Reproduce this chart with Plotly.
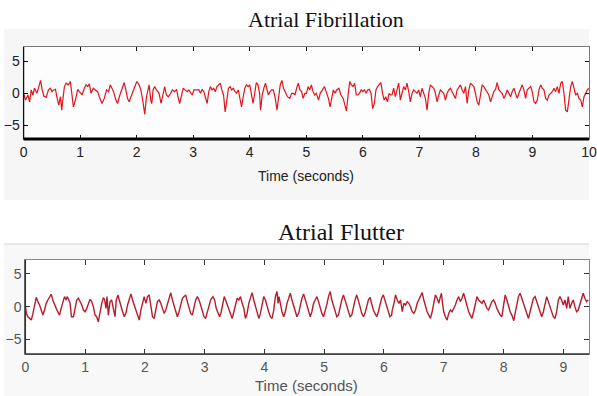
import plotly.graph_objects as go

# ---------------- Atrial Fibrillation ----------------
afib_t = [0.000,0.035,0.076,0.106,0.135,0.164,0.194,0.235,0.270,0.299,0.329,0.358,0.399,0.440,0.470,0.505,0.534,0.564,0.587,0.622,
          0.652,0.675,0.693,0.722,0.752,0.793,0.828,0.857,0.881,0.916,0.957,0.986,1.033,1.075,1.104,1.133,1.163,1.192,1.233,1.268,
          1.309,1.339,1.386,1.427,1.468,1.503,1.533,1.562,1.591,1.632,1.662,1.703,1.750,1.779,1.809,1.838,1.867,1.914,1.955,2.002,
          2.043,2.073,2.102,2.143,2.173,2.202,2.220,2.249,2.267,2.290,2.319,2.349,2.396,2.431,2.466,2.496,2.525,2.560,2.601,2.631,
          2.672,2.707,2.730,2.760,2.795,2.824,2.854,2.895,2.924,2.954,2.983,3.012,
          3.101,3.130,3.159,3.188,3.217,3.246,3.275,3.304,3.333,3.362,3.391,3.420,3.449,3.478,3.507,3.536,3.565,3.594,3.623,3.652,
          3.681,3.710,3.739,3.768,3.797,3.826,3.855,3.884,3.913,3.942,3.971,4.000,4.029,4.058,4.087,4.116,4.145,4.174,4.191,4.220,
          4.249,4.278,4.307,4.330,4.359,4.388,4.417,4.452,4.481,4.510,4.539,4.568,4.597,4.626,4.667,4.707,4.742,4.771,4.800,4.829,
          4.858,4.887,4.916,4.945,4.974,5.003,5.032,5.061,5.090,5.119,5.148,5.177,5.217,5.246,5.287,5.322,5.351,5.391,5.420,5.449,
          5.478,5.507,5.536,5.577,5.612,5.652,5.681,5.710,5.739,5.768,5.797,5.826,5.855,5.884,5.913,5.942,5.971,6.000,6.029,6.058,
          6.087,6.116,6.145,6.174,6.203,6.232,6.261,6.290,6.319,6.348,6.377,6.406,6.435,6.464,6.493,
          6.516,6.545,6.575,6.604,6.634,6.663,6.693,6.722,6.752,6.781,6.811,6.841,6.870,6.900,6.929,6.959,6.988,7.018,7.047,7.077,
          7.106,7.136,7.165,7.195,7.224,7.254,7.284,7.313,7.343,7.372,7.402,7.431,7.461,7.490,7.520,7.549,7.579,7.608,7.638,7.667,
          7.697,7.727,7.756,7.786,7.815,7.845,7.874,7.904,7.933,7.963,7.992,8.022,8.051,8.081,8.110,8.140,8.170,8.199,8.229,8.258,
          8.288,8.317,8.347,8.376,8.406,8.435,8.465,8.494,8.524,8.553,8.583,8.613,8.642,8.672,8.701,8.731,8.760,8.790,8.819,8.849,
          8.878,8.908,8.937,8.967,8.996,9.026,9.056,9.085,9.115,9.144,9.174,9.203,9.233,9.262,9.292,9.321,9.351,9.380,9.410,9.439,
          9.469,9.499,9.528,9.558,9.587,9.617,9.646,9.676,9.705,9.735,9.764,9.794,9.823,9.853,9.882,9.912,9.941,9.971,10.000]
afib_v = [0.00,-1.05,-0.26,-1.32,0.53,-0.26,0.79,0.00,1.05,2.00,0.53,-0.42,-0.63,0.53,0.79,0.26,0.53,0.63,-0.53,-1.84,
          -0.53,-2.63,-1.05,1.05,1.58,1.32,1.84,0.00,-2.10,-1.05,0.63,0.26,-0.26,0.79,1.32,1.05,1.47,0.00,0.79,0.53,
          0.26,-0.53,-1.58,-0.79,0.53,0.26,1.32,0.79,0.26,-1.05,-1.58,-0.26,1.05,1.68,0.53,-0.79,-1.32,-0.26,0.53,1.84,
          1.32,0.53,-0.79,-3.26,-0.53,1.05,1.32,-1.05,-1.58,0.53,1.05,0.53,0.00,-1.58,0.00,1.05,-0.26,-0.53,0.00,0.53,
          0.26,0.63,-0.53,-1.58,-0.26,0.79,0.53,0.26,0.53,0.00,-0.26,0.53,
          0.53,0.00,0.63,0.26,-0.53,-1.58,0.26,1.05,0.53,0.79,0.26,1.05,1.32,1.58,0.53,-0.26,-2.89,-0.53,0.79,1.05,
          0.53,0.79,0.26,0.00,0.53,-0.79,-2.10,-0.53,0.79,1.32,1.05,1.32,0.00,-1.58,0.00,1.68,1.32,0.00,-2.63,-0.26,
          0.79,1.58,0.53,-0.26,0.26,0.53,0.53,-0.79,-2.63,-0.53,1.32,2.00,0.79,0.26,-0.53,-0.79,0.00,0.00,-0.26,0.79,
          1.58,0.53,0.26,-0.79,0.00,0.00,1.05,0.53,1.32,0.26,-0.26,0.00,-1.05,0.00,0.53,1.05,0.26,-0.79,-2.10,-0.53,
          0.53,0.00,0.53,0.79,-0.26,-0.79,-1.58,-2.74,-0.26,1.84,1.32,1.05,1.58,-0.26,-0.26,0.00,0.53,0.26,0.53,0.00,
          0.53,0.63,0.00,-2.37,-1.58,0.53,1.05,1.32,1.68,0.00,-1.05,-0.53,-1.32,0.00,-0.26,
          -0.26,0.79,-0.53,0.53,1.58,-1.05,0.00,1.05,0.53,1.58,0.26,-1.32,0.00,0.53,0.26,0.00,0.53,-0.53,0.79,0.00,
          -0.79,-2.63,0.00,1.32,1.05,0.79,0.00,-1.32,-0.26,0.53,0.26,0.00,-1.05,0.00,0.53,0.79,0.26,-0.26,-0.79,0.53,
          1.05,1.32,0.53,0.00,1.05,-1.58,0.53,1.58,1.32,1.05,0.00,-1.32,-1.84,-0.26,1.32,1.05,0.53,0.26,-0.26,-1.32,
          -0.53,0.26,0.63,1.68,0.53,0.26,0.00,-0.79,-0.26,0.53,0.00,-0.53,0.26,0.79,0.00,-0.79,0.00,0.79,1.32,0.53,
          -0.79,0.53,0.79,1.05,0.26,-1.32,-1.58,-1.05,0.53,1.32,0.79,0.53,-0.79,-1.05,-0.26,0.00,0.26,0.79,0.26,1.05,
          0.00,1.58,1.84,0.00,-2.63,-2.89,-0.79,1.05,1.84,0.53,-0.26,0.00,-0.79,-1.05,-2.10,-0.53,0.00,0.53,0.79]

# ---------------- Atrial Flutter ----------------
aflut_t = [0.000,0.017,0.044,0.072,0.100,0.128,0.156,0.183,0.211,0.239,0.267,0.294,0.322,0.350,0.378,0.406,0.433,0.461,0.489,0.517,
           0.544,0.572,0.600,0.628,0.656,0.683,0.700,0.722,0.750,0.772,0.806,0.833,0.861,0.889,0.917,0.944,0.972,1.000,1.028,1.056,
           1.083,1.111,1.139,1.167,1.194,1.222,1.250,1.278,1.306,1.328,1.350,1.367,1.389,1.417,1.444,1.472,1.500,1.522,1.550,1.572,
           1.600,1.628,1.656,1.683,1.711,1.739,1.767,1.794,1.822,1.850,1.878,1.906,1.933,1.961,1.989,2.017,2.044,2.072,2.100,2.128,
           2.156,2.183,2.211,2.239,2.267,2.294,2.322,2.350,2.378,2.406,2.433,2.461,2.489,2.517,2.544,2.572,2.600,2.628,2.656,2.683,
           2.711,2.739,2.767,2.794,2.822,2.850,2.878,
           2.906,2.933,2.961,2.989,3.017,3.044,3.072,3.100,3.139,3.167,3.194,3.222,3.250,3.278,3.306,3.328,3.350,3.378,3.406,3.433,
           3.461,3.489,3.517,3.544,3.572,3.600,3.628,3.656,3.683,3.711,3.739,3.767,3.794,3.822,3.850,3.878,3.906,3.933,3.961,3.989,
           4.017,4.044,4.072,4.100,4.128,4.156,4.183,4.211,4.228,4.244,4.267,4.294,4.322,4.350,4.378,4.406,4.433,4.461,4.489,4.517,
           4.544,4.572,4.600,4.628,4.656,4.683,4.711,4.739,4.767,4.794,4.822,4.850,4.878,4.906,4.933,4.961,4.989,5.017,5.044,5.072,
           5.100,5.128,5.156,5.183,5.211,5.239,5.267,5.294,5.322,5.350,5.378,5.406,5.433,5.461,5.489,5.517,5.544,5.572,5.600,5.628,
           5.656,5.683,5.711,5.739,5.767,5.794,5.822,5.850,5.878,5.906,5.933,5.961,5.989,6.017,6.044,6.072,6.100,6.128,
           6.139,6.167,6.194,6.222,6.250,6.278,6.306,6.333,6.361,6.389,6.417,6.444,6.472,6.500,6.528,6.556,6.583,6.611,6.639,6.667,
           6.694,6.722,6.750,6.778,6.806,6.833,6.861,6.889,6.917,6.944,6.961,6.983,7.000,7.028,7.056,7.083,7.111,7.139,7.167,7.194,
           7.222,7.250,7.278,7.306,7.333,7.361,7.389,7.417,7.444,7.472,7.500,7.528,7.556,7.583,7.611,7.639,7.667,7.694,7.722,7.750,
           7.778,7.806,7.833,7.861,7.889,7.917,7.944,7.972,8.000,8.028,8.056,8.083,8.111,8.139,8.172,8.194,8.222,8.250,8.278,8.306,
           8.333,8.361,8.389,8.417,8.444,8.472,8.500,8.528,8.556,8.583,8.611,8.639,8.667,8.694,8.722,8.750,8.778,8.806,8.833,8.861,
           8.889,8.917,8.944,8.972,9.000,9.028,9.056,9.083,9.111,9.139,9.167,9.194,9.222,9.250,9.278,9.306,9.333,9.361,9.389,9.417]
aflut_v = [0.26,-1.02,-1.53,-1.79,-2.04,-1.02,0.51,1.43,0.77,0.26,-0.51,-1.28,-0.51,0.51,1.02,1.53,1.89,1.02,0.26,-0.26,
           -0.77,-1.28,-0.26,0.77,1.53,1.02,1.53,1.12,0.51,-1.53,-1.53,-0.26,1.02,1.28,0.77,0.26,-0.51,-0.77,-0.26,0.51,
           1.12,0.77,0.00,-1.28,-1.53,-2.30,-0.77,0.51,1.38,1.02,-0.26,1.53,-1.28,0.77,1.02,-0.51,-1.53,1.02,1.79,1.02,
           0.00,-0.77,-1.53,-1.02,0.26,1.02,1.94,1.02,0.26,-0.51,-1.28,-2.04,-0.51,0.51,1.53,0.51,1.53,1.79,0.00,-1.53,
           -1.79,-0.26,0.77,1.02,0.51,-0.26,-1.02,-0.51,0.51,1.53,2.14,1.02,0.26,-0.77,-1.53,-0.77,0.26,1.28,1.53,1.79,
           0.77,-0.26,-1.02,-1.28,-0.26,1.02,1.53,
           1.02,0.26,-0.77,-1.53,-1.79,-0.77,0.26,1.02,1.53,1.02,-0.26,-1.02,-1.53,-0.77,0.26,1.53,1.02,0.26,-0.51,-1.28,
           -1.79,-0.77,0.51,1.28,1.02,1.53,0.51,-0.26,-1.79,-1.02,0.51,1.53,2.14,1.02,0.00,-1.02,-1.79,-1.02,0.26,1.53,
           1.02,0.00,-0.77,-1.53,-1.79,-0.51,1.53,2.30,0.51,1.53,0.26,-0.77,-1.53,-0.77,0.51,1.28,2.04,1.02,0.26,-0.77,
           -1.53,-1.02,0.26,1.28,1.94,1.02,0.26,-0.77,-1.53,-0.77,0.51,1.02,1.53,0.77,-0.26,-1.02,-1.53,-0.77,0.26,1.53,
           2.30,1.02,0.26,-0.77,-1.53,-1.28,0.00,1.02,1.79,1.02,0.00,-0.77,-1.53,-1.28,0.00,1.02,1.79,1.02,0.00,-1.02,
           -1.53,-1.02,0.26,1.02,1.43,0.26,-0.51,-1.02,-1.53,-0.77,0.51,1.28,1.79,1.02,0.00,-0.77,-1.53,-1.28,
           -0.51,0.51,1.79,1.02,0.51,1.02,-0.77,0.51,0.26,0.77,0.51,0.00,-0.77,-1.02,-0.51,0.51,1.02,1.79,2.14,1.02,
           0.00,-0.77,-1.28,-1.79,-0.77,0.51,1.79,1.28,0.51,1.53,2.04,0.26,-0.77,-1.53,-2.04,-1.02,-0.51,-0.77,-0.26,0.26,
           1.02,1.53,0.77,1.28,2.04,1.02,0.00,-0.77,-1.28,-1.79,-0.77,0.51,1.53,1.02,0.77,0.51,1.02,0.26,-0.26,-0.51,
           0.26,0.77,1.02,0.51,-0.26,-0.77,-1.28,-1.53,0.51,1.79,1.02,0.00,-0.77,-1.28,-2.14,-1.02,0.51,1.53,2.04,1.28,
           0.51,-0.26,-1.28,-1.79,-0.77,0.51,1.28,1.53,0.77,-0.26,-1.02,-1.53,-0.77,0.51,1.53,0.77,0.00,-0.77,-1.53,-1.79,
           -0.77,1.02,1.53,1.02,0.26,1.02,-0.26,1.53,-0.26,0.51,1.02,0.00,-0.77,-0.51,0.26,1.02,2.04,1.28,0.77,1.02]

titles = ["Atrial Fibrillation", "Atrial Flutter"]
xlabel = "Time (seconds)"
afib_xticks = [0, 1, 2, 3, 4, 5, 6, 7, 8, 9, 10]
aflut_xticks = [0, 1, 2, 3, 4, 5, 6, 7, 8, 9]
yticks = [-5, 0, 5]

W, H = 597, 396
# the page is photographed slightly narrowed and shifted; compensate horizontally
def px(x): return min(1.0, max(0.0, ((x - 4.4) / 0.98) / W))
def py(y): return 1 - y / H

fig = go.Figure()
fig.add_trace(go.Scatter(x=afib_t, y=afib_v, mode="lines", line=dict(color="#e3131b", width=1.2),
                         xaxis="x", yaxis="y", showlegend=False, hoverinfo="skip"))
fig.add_trace(go.Scatter(x=aflut_t, y=aflut_v, mode="lines", line=dict(color="#b81c2c", width=1.4),
                         xaxis="x2", yaxis="y2", showlegend=False, hoverinfo="skip"))

tickfont = dict(family="Liberation Sans Narrow, Arial Narrow, Liberation Sans, Arial", size=14, color="#222")
tickfont2 = dict(family="Liberation Sans Narrow, Arial Narrow, Liberation Sans, Arial", size=14, color="#555")

fig.update_layout(
    width=W, height=H, margin=dict(l=0, r=0, t=0, b=0),
    paper_bgcolor="white", plot_bgcolor="white",
    xaxis=dict(domain=[px(24), px(591)], range=[0, 10], tickvals=afib_xticks, ticks="inside", ticklen=4,
               tickcolor="#111", showline=True, linecolor="#777", linewidth=1, mirror="ticks",
               showgrid=False, zeroline=False, tickfont=tickfont, anchor="y", ticklabeloverflow="allow"),
    yaxis=dict(domain=[py(139), py(47)], range=[-7.1, 7.2], tickvals=yticks, ticks="inside", ticklen=4,
               tickcolor="#111", showline=True, linecolor="#777", linewidth=1, mirror="ticks",
               showgrid=False, zeroline=False, tickfont=tickfont, anchor="x"),
    xaxis2=dict(domain=[px(25.7), px(591.7)], range=[0, 9.43], tickvals=aflut_xticks, ticks="inside", ticklen=5,
                tickcolor="#333", showline=True, linecolor="#888", linewidth=1, mirror="ticks",
                showgrid=False, zeroline=False, tickfont=tickfont2, anchor="y2"),
    yaxis2=dict(domain=[py(354), py(260)], range=[-7.2, 7.1], tickvals=yticks, ticks="inside", ticklen=5,
                tickcolor="#333", showline=True, linecolor="#888", linewidth=1, mirror="ticks",
                showgrid=False, zeroline=False, tickfont=tickfont2, anchor="x2"),
    shapes=[
        # light backgrounds of the two panels
        dict(type="rect", xref="paper", yref="paper", x0=0, x1=1, y0=py(200), y1=py(29),
             fillcolor="#f6f6f6", line=dict(width=0), layer="below"),
        dict(type="rect", xref="paper", yref="paper", x0=0, x1=1, y0=0, y1=py(244),
             fillcolor="#f8f8f8", line=dict(width=0), layer="below"),
        # plot areas stay white
        dict(type="rect", xref="x domain", yref="y domain", x0=0, x1=1, y0=0, y1=1,
             fillcolor="#fdfdfd", line=dict(width=0), layer="below"),
        dict(type="rect", xref="x2 domain", yref="y2 domain", x0=0, x1=1, y0=0, y1=1,
             fillcolor="#ffffff", line=dict(width=0), layer="below"),
        dict(type="line", xref="paper", yref="paper", x0=0, x1=1, y0=py(244), y1=py(244),
             line=dict(color="#d4d4d4", width=1)),
        # heavy bottom and left axis lines
        dict(type="line", xref="x domain", yref="y domain", x0=0, x1=1, y0=0, y1=0,
             line=dict(color="#000", width=3)),
        dict(type="line", xref="x domain", yref="y domain", x0=0, x1=0, y0=0, y1=1,
             line=dict(color="#111", width=1.3)),
        dict(type="line", xref="x2 domain", yref="y2 domain", x0=0, x1=1, y0=0, y1=0,
             line=dict(color="#333", width=1.5)),
        dict(type="line", xref="x2 domain", yref="y2 domain", x0=0, x1=0, y0=0, y1=1,
             line=dict(color="#333", width=1.5)),
    ],
    annotations=[
        dict(text=titles[0], xref="paper", yref="paper", x=px(326), y=py(20), showarrow=False,
             xanchor="center", yanchor="middle",
             font=dict(family="Liberation Serif, Times New Roman, serif", size=22, color="#111")),
        dict(text=titles[1], xref="paper", yref="paper", x=px(341.5), y=py(232), showarrow=False,
             xanchor="center", yanchor="middle",
             font=dict(family="Liberation Serif, Times New Roman, serif", size=24, color="#111")),
        dict(text=xlabel, xref="paper", yref="paper", x=px(306), y=py(176), showarrow=False,
             xanchor="center", yanchor="middle", font=dict(tickfont, size=14)),
        dict(text=xlabel, xref="paper", yref="paper", x=px(307), y=py(385), showarrow=False,
             xanchor="center", yanchor="middle", font=dict(tickfont2, size=15)),
    ],
)

fig.write_html("out.html", config={"displayModeBar": False, "staticPlot": True},
               post_script=("document.body.style.margin='0';document.body.style.overflow='hidden';"
                            "var g=document.querySelector('.plotly-graph-div');"
                            "g.parentNode.style.fontSize='0';g.style.display='block';"))
